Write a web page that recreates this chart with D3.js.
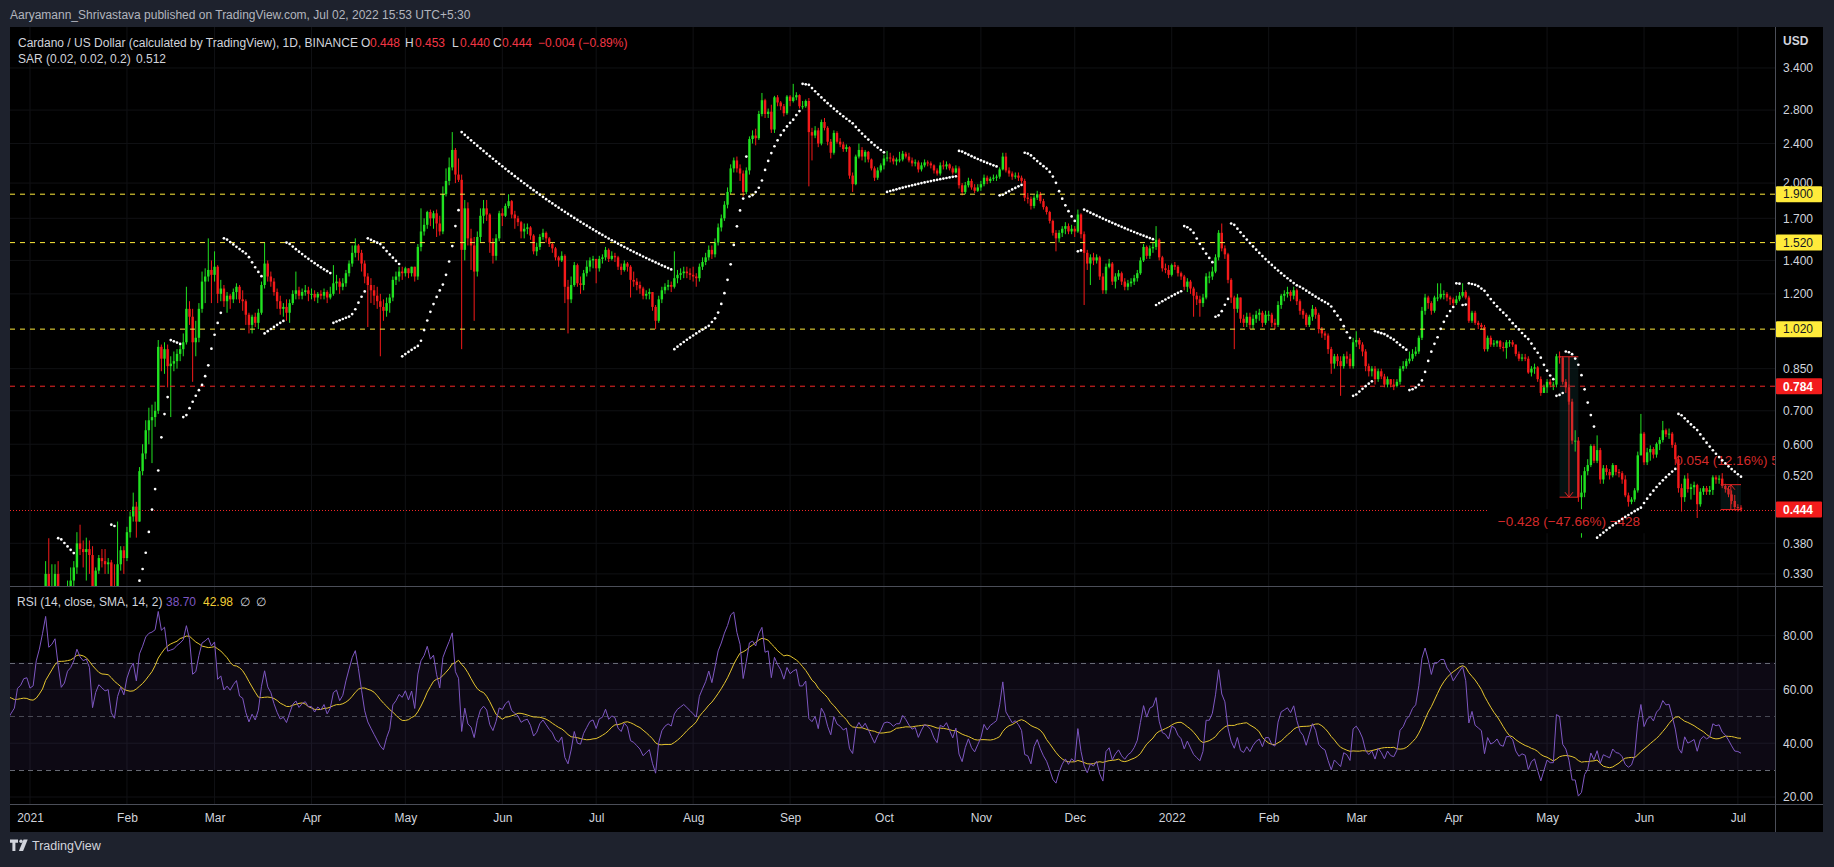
<!DOCTYPE html>
<html><head><meta charset="utf-8">
<script src="https://cdn.jsdelivr.net/npm/d3@7"></script>
<style>
html,body{margin:0;padding:0;background:#1e222d;overflow:hidden}
svg{display:block}
text{font-family:"Liberation Sans",Arial,sans-serif}
</style></head><body>
<svg id="chart" width="1834" height="867"></svg>
<script>
// ---------------- DATA (daily, Cardano / USD, starting 2020-11-15) ----------------
const startDate = "2020-11-15";
const close = [
// 2020-11-15..30
0.099,0.103,0.107,0.103,0.105,0.114,0.136,0.139,0.162,0.170,0.146,0.131,0.137,0.148,0.150,0.160,
// 2020-12
0.155,0.160,0.163,0.148,0.155,0.158,0.154,0.144,0.150,0.147,0.142,0.148,0.155,0.153,0.151,0.158,0.170,0.174,0.168,0.164,0.152,0.156,0.130,0.141,0.144,0.148,0.152,0.170,0.173,0.180,0.181,
// 2021-01
0.175,0.177,0.205,0.224,0.259,0.330,0.300,0.310,0.330,0.300,0.270,0.280,0.310,0.320,0.340,0.380,0.370,0.365,0.370,0.360,0.300,0.335,0.355,0.350,0.345,0.348,0.310,0.300,0.345,0.368,0.355,
// 2021-02
0.400,0.430,0.450,0.420,0.530,0.575,0.640,0.670,0.680,0.700,0.940,0.890,0.930,0.860,0.870,0.880,0.910,0.930,0.960,1.120,1.080,0.960,0.980,1.120,1.270,1.300,1.340,1.310,
// 2021-03
1.36,1.20,1.23,1.16,1.19,1.17,1.21,1.24,1.17,1.16,1.09,1.04,1.08,1.05,1.10,1.25,1.38,1.30,1.27,1.21,1.16,1.12,1.13,1.10,1.15,1.20,1.22,1.19,1.21,1.22,1.20,
// 2021-04
1.20,1.18,1.20,1.19,1.21,1.18,1.20,1.26,1.27,1.24,1.26,1.32,1.38,1.45,1.50,1.45,1.38,1.30,1.25,1.22,1.19,1.16,1.13,1.11,1.15,1.18,1.28,1.30,1.33,1.32,
// 2021-05
1.35,1.32,1.36,1.30,1.49,1.60,1.65,1.75,1.70,1.74,1.66,1.60,1.90,2.02,2.15,2.33,2.08,2.03,1.47,1.78,1.55,1.50,1.33,1.56,1.72,1.78,1.73,1.52,1.43,1.55,1.74,
// 2021-06
1.72,1.80,1.84,1.73,1.70,1.67,1.60,1.62,1.63,1.57,1.46,1.49,1.56,1.59,1.55,1.51,1.48,1.42,1.40,1.43,1.24,1.17,1.25,1.37,1.26,1.25,1.32,1.36,1.40,1.41,
// 2021-07
1.35,1.41,1.42,1.47,1.41,1.43,1.42,1.36,1.34,1.38,1.36,1.28,1.27,1.25,1.23,1.19,1.20,1.21,1.13,1.06,1.17,1.22,1.24,1.25,1.24,1.29,1.31,1.32,1.33,1.32,1.31,
// 2021-08
1.30,1.29,1.36,1.39,1.42,1.47,1.44,1.52,1.63,1.70,1.81,1.92,2.14,2.22,2.14,2.09,1.92,2.12,2.45,2.49,2.46,2.75,2.93,2.75,2.78,2.56,2.97,2.90,2.85,2.76,2.98,
// 2021-09
2.92,2.97,3.00,2.85,2.85,2.92,2.53,2.49,2.55,2.40,2.65,2.58,2.42,2.30,2.52,2.42,2.39,2.34,2.36,2.07,1.99,2.26,2.33,2.26,2.31,2.23,2.14,2.05,2.12,2.17,
// 2021-10
2.24,2.25,2.24,2.21,2.23,2.23,2.29,2.26,2.22,2.19,2.20,2.13,2.17,2.20,2.19,2.17,2.12,2.09,2.17,2.16,2.18,2.14,2.10,2.14,1.98,1.92,1.98,2.02,1.96,1.93,1.96,
// 2021-11
1.99,2.05,2.02,2.04,2.05,2.06,2.13,2.26,2.12,2.09,2.06,2.07,2.05,2.02,1.87,1.86,1.80,1.87,1.90,1.84,1.79,1.75,1.68,1.59,1.55,1.59,1.62,1.64,1.60,1.62,
// 2021-12
1.60,1.73,1.58,1.45,1.38,1.42,1.40,1.42,1.30,1.22,1.36,1.38,1.27,1.30,1.32,1.27,1.24,1.26,1.27,1.29,1.32,1.40,1.49,1.43,1.48,1.49,1.54,1.42,1.35,1.34,1.31,
// 2022-01
1.37,1.36,1.32,1.30,1.24,1.27,1.23,1.19,1.17,1.15,1.18,1.30,1.30,1.33,1.42,1.59,1.48,1.44,1.28,1.18,1.12,1.18,1.07,1.05,1.08,1.04,1.07,1.09,1.10,1.05,1.09,
// 2022-02
1.09,1.05,1.04,1.14,1.19,1.20,1.21,1.19,1.22,1.16,1.11,1.09,1.04,1.08,1.12,1.09,1.02,1.00,0.99,0.93,0.87,0.90,0.88,0.86,0.90,0.89,0.86,0.96,
// 2022-03
0.97,0.95,0.92,0.86,0.84,0.85,0.81,0.84,0.82,0.79,0.81,0.79,0.785,0.80,0.85,0.86,0.88,0.89,0.91,0.92,0.98,1.11,1.18,1.15,1.11,1.18,1.18,1.20,1.20,1.18,1.17,
// 2022-04
1.15,1.17,1.19,1.21,1.18,1.06,1.10,1.05,1.04,1.03,0.93,0.98,0.95,0.955,0.965,0.94,0.935,0.96,0.96,0.95,0.91,0.89,0.895,0.89,0.835,0.85,0.855,0.81,0.76,0.78,
// 2022-05
0.80,0.79,0.79,0.90,0.895,0.80,0.78,0.73,0.61,0.61,0.47,0.48,0.53,0.545,0.595,0.556,0.584,0.51,0.537,0.528,0.52,0.545,0.528,0.525,0.51,0.474,0.46,0.465,0.485,0.57,0.63,
// 2022-06
0.552,0.578,0.587,0.572,0.601,0.612,0.640,0.628,0.630,0.598,0.560,0.49,0.47,0.512,0.488,0.492,0.497,0.455,0.482,0.49,0.482,0.486,0.515,0.51,0.512,0.495,0.488,0.476,0.462,0.449,
// 2022-07
0.448,0.444
];
const high = [
0.103,0.105,0.110,0.108,0.107,0.116,0.140,0.155,0.165,0.183,0.172,0.148,0.140,0.151,0.155,0.165,
0.166,0.163,0.168,0.165,0.157,0.161,0.160,0.155,0.152,0.152,0.148,0.149,0.158,0.158,0.155,0.160,0.175,0.178,0.177,0.170,0.166,0.160,0.158,0.143,0.149,0.150,0.160,0.173,0.178,0.184,0.185,
0.185,0.184,0.210,0.240,0.265,0.350,0.389,0.345,0.345,0.350,0.310,0.310,0.320,0.340,0.350,0.400,0.414,0.385,0.390,0.385,0.375,0.340,0.360,0.370,0.370,0.355,0.352,0.345,0.420,0.375,0.375,
0.410,0.440,0.480,0.460,0.540,0.600,0.670,0.710,0.720,0.730,0.970,0.950,0.960,0.950,0.900,0.920,0.930,0.950,1.000,1.240,1.160,1.120,1.060,1.150,1.330,1.350,1.550,1.400,
1.46,1.37,1.28,1.25,1.21,1.20,1.23,1.26,1.25,1.22,1.17,1.10,1.09,1.10,1.12,1.27,1.52,1.40,1.33,1.29,1.23,1.19,1.15,1.17,1.17,1.22,1.33,1.24,1.23,1.25,1.24,
1.23,1.22,1.21,1.22,1.23,1.22,1.24,1.37,1.31,1.29,1.29,1.34,1.40,1.50,1.55,1.51,1.47,1.40,1.32,1.29,1.25,1.24,1.20,1.17,1.18,1.20,1.30,1.33,1.36,1.36,
1.36,1.35,1.36,1.35,1.51,1.78,1.70,1.76,1.77,1.76,1.77,1.72,1.97,2.14,2.25,2.53,2.35,2.24,2.08,1.85,1.83,1.62,1.56,1.60,1.78,1.85,1.85,1.74,1.55,1.58,1.76,
1.78,1.82,1.90,1.85,1.76,1.72,1.68,1.66,1.66,1.64,1.58,1.52,1.58,1.62,1.60,1.56,1.52,1.49,1.43,1.46,1.44,1.28,1.30,1.39,1.38,1.30,1.34,1.40,1.42,1.43,
1.41,1.43,1.44,1.49,1.48,1.46,1.45,1.43,1.38,1.40,1.39,1.37,1.33,1.29,1.27,1.24,1.22,1.23,1.21,1.14,1.19,1.24,1.26,1.28,1.27,1.46,1.34,1.35,1.36,1.36,1.35,
1.36,1.32,1.38,1.42,1.45,1.50,1.50,1.55,1.66,1.73,1.84,1.96,2.18,2.25,2.26,2.18,2.12,2.15,2.48,2.55,2.57,2.79,3.03,2.95,2.82,2.87,2.99,3.00,2.92,2.88,3.00,
3.00,3.16,3.04,3.01,2.92,2.94,2.96,2.58,2.60,2.58,2.68,2.70,2.60,2.45,2.55,2.54,2.46,2.42,2.39,2.37,2.10,2.28,2.40,2.36,2.33,2.32,2.24,2.16,2.15,2.19,
2.28,2.32,2.30,2.27,2.25,2.31,2.32,2.31,2.30,2.25,2.23,2.22,2.20,2.23,2.22,2.21,2.18,2.14,2.20,2.22,2.21,2.19,2.16,2.17,2.16,2.00,2.01,2.05,2.04,1.99,1.99,
2.02,2.08,2.07,2.06,2.08,2.08,2.15,2.30,2.30,2.15,2.11,2.10,2.10,2.07,2.04,1.91,1.88,1.89,1.93,1.92,1.86,1.80,1.76,1.69,1.61,1.61,1.64,1.67,1.66,1.65,
1.64,1.77,1.74,1.60,1.47,1.44,1.45,1.44,1.43,1.32,1.38,1.41,1.39,1.32,1.34,1.33,1.29,1.28,1.29,1.31,1.34,1.42,1.51,1.50,1.50,1.52,1.64,1.55,1.43,1.38,1.37,
1.38,1.39,1.37,1.33,1.31,1.29,1.28,1.24,1.21,1.19,1.20,1.32,1.33,1.36,1.44,1.61,1.66,1.50,1.45,1.29,1.19,1.20,1.17,1.09,1.10,1.10,1.09,1.11,1.12,1.11,1.11,
1.11,1.10,1.07,1.16,1.20,1.22,1.24,1.22,1.24,1.23,1.17,1.12,1.10,1.09,1.14,1.13,1.10,1.03,1.01,1.00,0.94,0.91,0.91,0.90,0.91,0.92,0.91,0.98,
1.01,0.98,0.96,0.93,0.87,0.86,0.86,0.85,0.85,0.83,0.82,0.81,0.81,0.81,0.86,0.88,0.89,0.92,0.93,0.94,0.99,1.13,1.20,1.19,1.16,1.19,1.26,1.26,1.22,1.21,1.19,
1.18,1.19,1.21,1.26,1.22,1.19,1.11,1.11,1.06,1.05,1.04,0.99,0.99,0.97,0.97,0.97,0.96,0.97,0.97,0.97,0.95,0.92,0.91,0.91,0.90,0.86,0.87,0.86,0.82,0.79,
0.81,0.81,0.80,0.91,0.92,0.90,0.81,0.79,0.74,0.64,0.62,0.52,0.54,0.56,0.60,0.60,0.625,0.59,0.545,0.545,0.535,0.55,0.545,0.535,0.53,0.52,0.48,0.47,0.49,0.58,0.69,
0.635,0.59,0.597,0.592,0.605,0.62,0.668,0.645,0.645,0.635,0.605,0.57,0.50,0.52,0.525,0.50,0.505,0.50,0.49,0.495,0.495,0.495,0.52,0.52,0.52,0.525,0.50,0.495,0.485,0.475,
0.455,0.453
];
const low = [
0.096,0.098,0.102,0.100,0.101,0.104,0.113,0.128,0.137,0.155,0.140,0.120,0.128,0.135,0.144,0.148,
0.148,0.151,0.156,0.145,0.146,0.152,0.150,0.141,0.140,0.143,0.136,0.140,0.147,0.150,0.148,0.150,0.156,0.165,0.163,0.160,0.148,0.146,0.122,0.128,0.138,0.141,0.145,0.150,0.164,0.169,0.172,
0.171,0.170,0.176,0.190,0.215,0.255,0.290,0.260,0.300,0.280,0.230,0.260,0.270,0.300,0.290,0.330,0.360,0.340,0.320,0.330,0.290,0.280,0.330,0.340,0.330,0.330,0.290,0.285,0.300,0.335,0.330,
0.350,0.390,0.420,0.390,0.420,0.520,0.560,0.600,0.550,0.650,0.690,0.840,0.830,0.780,0.680,0.840,0.850,0.880,0.900,0.950,1.040,0.800,0.900,0.960,1.100,1.150,1.270,1.150,
1.27,1.15,1.16,1.13,1.10,1.12,1.15,1.17,1.15,1.11,1.04,1.00,1.00,1.03,1.02,1.09,1.23,1.27,1.24,1.19,1.12,1.09,1.08,1.06,1.05,1.14,1.17,1.17,1.17,1.19,1.16,
1.17,1.16,1.15,1.17,1.17,1.15,1.17,1.19,1.22,1.20,1.22,1.24,1.30,1.36,1.42,1.40,1.33,1.26,1.03,1.15,1.14,1.12,0.90,1.06,1.08,1.10,1.16,1.25,1.27,1.28,
1.30,1.29,1.30,1.27,1.28,1.46,1.57,1.62,1.64,1.62,1.56,1.57,1.58,1.88,1.98,2.12,2.00,2.01,0.93,1.40,1.50,1.34,1.06,1.30,1.52,1.66,1.68,1.45,1.38,1.40,1.53,
1.64,1.71,1.78,1.70,1.62,1.64,1.55,1.55,1.58,1.54,1.44,1.43,1.47,1.54,1.52,1.49,1.45,1.40,1.36,1.39,1.15,1.00,1.15,1.24,1.24,1.20,1.22,1.30,1.33,1.35,
1.26,1.33,1.38,1.40,1.39,1.40,1.39,1.34,1.31,1.33,1.33,1.18,1.24,1.22,1.20,1.17,1.17,1.17,1.11,1.02,1.05,1.15,1.20,1.22,1.21,1.23,1.26,1.28,1.29,1.29,1.28,
1.27,1.24,1.27,1.34,1.37,1.40,1.41,1.42,1.50,1.60,1.68,1.78,1.90,2.10,2.10,2.02,1.88,1.90,2.08,2.40,2.38,2.44,2.72,2.70,2.70,2.52,2.52,2.85,2.80,2.72,2.74,
2.85,2.90,2.93,2.82,2.81,2.83,1.97,2.22,2.46,2.36,2.38,2.55,2.38,2.24,2.28,2.40,2.36,2.31,2.31,2.04,1.92,1.98,2.24,2.22,2.20,2.20,2.12,2.02,2.03,2.10,
2.13,2.21,2.20,2.18,2.17,2.20,2.21,2.24,2.20,2.16,2.16,2.10,2.11,2.15,2.16,2.14,2.09,2.07,2.07,2.13,2.13,2.12,2.08,2.09,1.95,1.89,1.90,1.96,1.94,1.91,1.92,
1.93,1.97,1.99,2.00,2.02,2.02,2.04,2.12,2.10,2.06,2.03,2.04,2.02,2.00,1.84,1.82,1.77,1.78,1.85,1.82,1.77,1.73,1.66,1.57,1.46,1.52,1.56,1.58,1.58,1.58,
1.56,1.59,1.55,1.14,1.34,1.25,1.37,1.38,1.28,1.20,1.20,1.35,1.25,1.23,1.28,1.25,1.22,1.22,1.24,1.25,1.27,1.31,1.39,1.41,1.41,1.45,1.47,1.40,1.33,1.32,1.29,
1.30,1.34,1.30,1.28,1.22,1.21,1.20,1.08,1.14,1.08,1.13,1.17,1.26,1.28,1.32,1.40,1.46,1.41,1.26,1.15,0.93,1.10,1.05,1.03,1.03,1.02,1.02,1.05,1.06,1.03,1.04,
1.06,1.03,1.02,1.03,1.12,1.16,1.18,1.16,1.17,1.14,1.09,1.07,1.03,1.03,1.06,1.07,1.00,0.98,0.97,0.91,0.83,0.85,0.86,0.75,0.85,0.87,0.85,0.85,
0.94,0.93,0.90,0.84,0.82,0.82,0.79,0.80,0.81,0.78,0.78,0.78,0.77,0.78,0.79,0.84,0.85,0.87,0.88,0.90,0.91,0.97,1.09,1.12,1.09,1.10,1.16,1.17,1.17,1.16,1.14,
1.13,1.14,1.16,1.18,1.17,1.05,1.05,1.04,1.02,1.02,0.92,0.92,0.94,0.94,0.94,0.93,0.92,0.89,0.94,0.94,0.90,0.88,0.88,0.88,0.83,0.82,0.83,0.80,0.75,0.76,
0.76,0.78,0.77,0.78,0.87,0.79,0.76,0.72,0.60,0.58,0.46,0.39,0.47,0.52,0.54,0.55,0.55,0.50,0.50,0.52,0.51,0.515,0.52,0.515,0.50,0.47,0.45,0.455,0.46,0.48,0.57,
0.545,0.545,0.556,0.562,0.564,0.584,0.605,0.62,0.615,0.59,0.545,0.48,0.44,0.46,0.48,0.465,0.475,0.427,0.45,0.475,0.475,0.475,0.475,0.50,0.50,0.49,0.48,0.47,0.455,0.442,
0.44,0.440
];

// axis / annotation values
const monthTicks = ["2021-01-01","2021-02-01","2021-03-01","2021-04-01","2021-05-01","2021-06-01","2021-07-01","2021-08-01","2021-09-01","2021-10-01","2021-11-01","2021-12-01","2022-01-01","2022-02-01","2022-03-01","2022-04-01","2022-05-01","2022-06-01","2022-07-01"];
const monthLabels = ["2021","Feb","Mar","Apr","May","Jun","Jul","Aug","Sep","Oct","Nov","Dec","2022","Feb","Mar","Apr","May","Jun","Jul"];
const priceTicks = [3.4,2.8,2.4,2.0,1.7,1.4,1.2,0.85,0.7,0.6,0.52,0.38,0.33];
const rsiTicks = [80,60,40,20];
const yellowLevels = [1.9,1.52,1.02];
const redLevel = 0.784;
const lastPrice = 0.444;
const rsiBands = [70,50,30];
const ranges = [
  {from:"2022-05-05T00:00Z", to:"2022-05-11T00:00Z", p1:0.898, p2:0.470, label:"\u22120.428 (\u221247.66%) \u2212428"},
  {from:"2022-06-25T12:00Z", to:"2022-07-02T00:00Z", p1:0.444, p2:0.498, label:"0.054 (12.16%) 54"}
];

// ---------------- CHART ----------------
const svg = d3.select("#chart");
const L=10, R=1775, T=27, MB=586, RT=587, RB=804, AXB=832, RIGHT=1823;
const DAY=864e5, t0=Date.parse(startDate+"T00:00Z"), j1=Date.UTC(2021,0,1);
const dates = close.map((_,i)=>new Date(t0+i*DAY));
const x = d3.scaleUtc().domain([new Date(j1-6.394*DAY), new Date(j1+557.87*DAY)]).range([L,R]);
const y = d3.scaleLog().domain([0.3121,4.088]).range([MB,28]);
const yr = d3.scaleLinear().domain([17.40,98.44]).range([RB,RT-1]);
const UP="#21e221", DN="#f51a1a", AX="#d1d4dc", SEP="#4b4e58";

if(close.length!==high.length||close.length!==low.length){
  svg.append("text").attr("x",400).attr("y",300).attr("fill","yellow").text("len "+close.length+" "+high.length+" "+low.length);
}

// backgrounds
svg.append("rect").attr("x",L).attr("y",T).attr("width",RIGHT-L).attr("height",AXB-T).attr("fill","#000");
const defs=svg.append("defs");
defs.append("clipPath").attr("id","cm").append("rect").attr("x",L).attr("y",T).attr("width",R-L).attr("height",MB-T);
defs.append("clipPath").attr("id","cr").append("rect").attr("x",L).attr("y",RT).attr("width",R-L).attr("height",RB-RT);

// grid
const gridC="#101114";
const tickDates = monthTicks.map(s=>new Date(s+"T00:00Z"));
const gm = svg.append("g").attr("clip-path","url(#cm)");
const gr = svg.append("g").attr("clip-path","url(#cr)");
[gm,gr].forEach((g,k)=>{
  g.selectAll("line.v").data(tickDates).enter().append("line")
   .attr("x1",d=>x(d)).attr("x2",d=>x(d)).attr("y1",k?RT:T).attr("y2",k?RB:MB).attr("stroke",gridC);
});
gm.selectAll("line.h").data(priceTicks).enter().append("line")
  .attr("x1",L).attr("x2",R).attr("y1",d=>y(d)).attr("y2",d=>y(d)).attr("stroke",gridC);
gr.selectAll("line.h").data(rsiTicks).enter().append("line")
  .attr("x1",L).attr("x2",R).attr("y1",d=>yr(d)).attr("y2",d=>yr(d)).attr("stroke",gridC);

// candles
const bars = close.map((c,i)=>{const o=i>0?close[i-1]:c;return {t:dates[i],o,c,h:Math.max(high[i],o,c),l:Math.min(low[i],o,c)};});
const bw=2.4;
const cg = gm.append("g");
cg.selectAll("line.w").data(bars).enter().append("line")
  .attr("x1",d=>x(d.t)).attr("x2",d=>x(d.t)).attr("y1",d=>y(d.h)).attr("y2",d=>y(d.l))
  .attr("stroke",d=>d.c>=d.o?UP:DN).attr("stroke-width",1);
cg.selectAll("rect.b").data(bars).enter().append("rect")
  .attr("x",d=>x(d.t)-bw/2).attr("width",bw)
  .attr("y",d=>y(Math.max(d.o,d.c))).attr("height",d=>Math.max(1,y(Math.min(d.o,d.c))-y(Math.max(d.o,d.c))))
  .attr("fill",d=>d.c>=d.o?UP:DN);

// horizontal level lines
gm.selectAll("line.yl").data(yellowLevels).enter().append("line")
  .attr("x1",L).attr("x2",R).attr("y1",d=>y(d)).attr("y2",d=>y(d))
  .attr("stroke","#ffeb3b").attr("stroke-dasharray","5,5");
gm.append("line").attr("x1",L).attr("x2",R).attr("y1",y(redLevel)).attr("y2",y(redLevel))
  .attr("stroke","#f22727").attr("stroke-dasharray","5,5");
gm.append("line").attr("x1",L).attr("x2",R).attr("y1",Math.round(y(lastPrice))+0.5).attr("y2",Math.round(y(lastPrice))+0.5)
  .attr("stroke","#f22727").attr("stroke-dasharray","1,2");

// price range measurements
ranges.forEach((r,k)=>{
  const x1=x(new Date(r.from)), x2=x(new Date(r.to)), xm=(x1+x2)/2;
  const ya=y(r.p1), yb=y(r.p2), top=Math.min(ya,yb), bot=Math.max(ya,yb);
  gm.append("rect").attr("x",x1).attr("y",top).attr("width",x2-x1).attr("height",bot-top).attr("fill","rgba(40,110,110,0.16)");
  [top,bot].forEach(v=>gm.append("line").attr("x1",x1).attr("x2",x2).attr("y1",v).attr("y2",v).attr("stroke","#e02424"));
  gm.append("line").attr("x1",xm).attr("x2",xm).attr("y1",top).attr("y2",bot).attr("stroke","#e02424");
  const dir = yb>ya?1:-1;
  gm.append("path").attr("d",`M${xm-4},${yb-dir*5}L${xm},${yb}L${xm+4},${yb-dir*5}`).attr("fill","none").attr("stroke","#e02424");
  const ly = dir>0 ? bot+24 : top-25;
  if(dir>0) gm.append("rect").attr("x",xm-80).attr("y",ly-12).attr("width",160).attr("height",24).attr("fill","#000");
  gm.append("text").attr("x",xm).attr("y",ly+5).attr("text-anchor","middle").attr("font-size","13.5px")
    .attr("fill","#d42a2a").text(r.label);
});

// Parabolic SAR (0.02, 0.02, 0.2)
function sar(h,l,c,start=0.02,inc=0.02,mx=0.2){
  const n=c.length,out=new Array(n).fill(null);let res,mm,acc,below;
  for(let i=1;i<n;i++){
    let first=false;
    if(i===1){ if(c[1]>c[0]){below=true;mm=h[1];res=l[0];}else{below=false;mm=l[1];res=h[0];} first=true;acc=start; }
    res=res+acc*(mm-res);
    if(below){ if(res>l[i]){first=true;below=false;res=Math.max(h[i],mm);mm=l[i];acc=start;} }
    else { if(res<h[i]){first=true;below=true;res=Math.min(l[i],mm);mm=h[i];acc=start;} }
    if(!first){
      if(below){ if(h[i]>mm){mm=h[i];acc=Math.min(acc+inc,mx);} }
      else { if(l[i]<mm){mm=l[i];acc=Math.min(acc+inc,mx);} }
    }
    if(below){ res=Math.min(res,l[i-1]); if(i>1) res=Math.min(res,l[i-2]); }
    else { res=Math.max(res,h[i-1]); if(i>1) res=Math.max(res,h[i-2]); }
    out[i]=res;
  }
  return out;
}
const H=bars.map(b=>b.h), Lo=bars.map(b=>b.l);
const sarV = sar(H,Lo,close);
gm.selectAll("circle.s").data(bars.map((b,i)=>({t:b.t,v:sarV[i]})).filter(d=>d.v!==null)).enter().append("circle")
  .attr("cx",d=>x(d.t)).attr("cy",d=>y(d.v)).attr("r",1.35).attr("fill","#fff");

// RSI
function rsi(c,len=14){
  const n=c.length,out=new Array(n).fill(null);let up=0,dn=0;
  for(let i=1;i<n;i++){
    const ch=c[i]-c[i-1],u=Math.max(ch,0),d=Math.max(-ch,0);
    if(i<=len){up+=u;dn+=d;if(i<len)continue;up/=len;dn/=len;}
    else{up=(up*(len-1)+u)/len;dn=(dn*(len-1)+d)/len;}
    out[i]=dn===0?100:(up===0?0:100-100/(1+up/dn));
  }
  return out;
}
const rsiV=rsi(close);
const smaV=rsiV.map((v,i)=>{ if(i<14) return null; const s=rsiV.slice(i-13,i+1); if(s.some(z=>z===null)) return null; return d3.mean(s); });
gr.append("rect").attr("x",L).attr("width",R-L).attr("y",yr(70)).attr("height",yr(30)-yr(70)).attr("fill","rgba(126,87,194,0.1)");
gr.selectAll("line.band").data(rsiBands).enter().append("line")
  .attr("x1",L).attr("x2",R).attr("y1",d=>Math.round(yr(d))+0.5).attr("y2",d=>Math.round(yr(d))+0.5)
  .attr("stroke","#787b86").attr("stroke-opacity",d=>d===50?0.55:0.85).attr("stroke-dasharray","5,4");
const ln=(arr)=>d3.line().defined(d=>d.v!==null).x(d=>x(d.t)).y(d=>yr(d.v))(bars.map((b,i)=>({t:b.t,v:arr[i]})));
gr.append("path").attr("d",ln(smaV)).attr("fill","none").attr("stroke","#e6c62f").attr("stroke-width",1);
gr.append("path").attr("d",ln(rsiV)).attr("fill","none").attr("stroke","#7e57c2").attr("stroke-width",1);

// separators
svg.append("line").attr("x1",L).attr("x2",RIGHT).attr("y1",MB+0.5).attr("y2",MB+0.5).attr("stroke",SEP);
svg.append("line").attr("x1",L).attr("x2",RIGHT).attr("y1",RB+0.5).attr("y2",RB+0.5).attr("stroke",SEP);
svg.append("line").attr("x1",R+0.5).attr("x2",R+0.5).attr("y1",T).attr("y2",AXB).attr("stroke",SEP);

// axes
const fmt3=d3.format(".3f");
const ya = svg.append("g").attr("transform",`translate(${R},0)`).call(d3.axisRight(y).tickValues(priceTicks).tickFormat(fmt3).tickSize(0).tickPadding(8));
const yra = svg.append("g").attr("transform",`translate(${R},0)`).call(d3.axisRight(yr).tickValues(rsiTicks).tickFormat(d3.format(".2f")).tickSize(0).tickPadding(8));
const xa = svg.append("g").attr("transform",`translate(0,${RB})`).call(d3.axisBottom(x).tickValues(tickDates).tickFormat((d,i)=>monthLabels[i]).tickSize(0).tickPadding(9));
[ya,yra,xa].forEach(g=>{g.select(".domain").remove();g.selectAll("text").attr("fill",AX).attr("font-size","12px").attr("font-family","Liberation Sans, Arial, sans-serif");});
svg.append("text").attr("x",R+8).attr("y",45).attr("fill",AX).attr("font-size","12px").attr("font-weight","bold").text("USD");

// price tags
function tag(v,bg,fg,bold){
  const yy=y(v);
  svg.append("rect").attr("x",R+1).attr("y",yy-8).attr("width",46).attr("height",16).attr("fill",bg).attr("rx",1);
  svg.append("text").attr("x",R+8).attr("y",yy+4.3).attr("fill",fg).attr("font-size","12px").attr("font-weight",bold?"bold":"normal").text(fmt3(v));
}
yellowLevels.forEach(v=>tag(v,"#ffeb3b","#131722",false));
tag(redLevel,"#f21c1c","#ffffff",true);
tag(lastPrice,"#f21c1c","#ffffff",true);

// legends
const red="#f23645";
svg.append("text").attr("x",10).attr("y",19).attr("fill","#b2b5be").attr("font-size","12px")
  .text("Aaryamann_Shrivastava published on TradingView.com, Jul 02, 2022 15:53 UTC+5:30");
const lg=svg.append("g").attr("font-size","12px");
lg.append("text").attr("x",18).attr("y",47).attr("fill",AX).text("Cardano / US Dollar (calculated by TradingView), 1D, BINANCE");
[["O",361,"0.448",370],["H",405,"0.453",415],["L",452,"0.440",460],["C",493,"0.444",502]].forEach(a=>{
  lg.append("text").attr("x",a[1]).attr("y",47).attr("fill",AX).text(a[0]);
  lg.append("text").attr("x",a[3]).attr("y",47).attr("fill",red).text(a[2]);
});
lg.append("text").attr("x",538).attr("y",47).attr("fill",red).text("\u22120.004 (\u22120.89%)");
lg.append("text").attr("x",18).attr("y",63).attr("fill",AX).text("SAR (0.02, 0.02, 0.2)");
lg.append("text").attr("x",136).attr("y",63).attr("fill",AX).text("0.512");
lg.append("text").attr("x",17).attr("y",606).attr("fill",AX).text("RSI (14, close, SMA, 14, 2)");
lg.append("text").attr("x",166).attr("y",606).attr("fill","#7e57c2").text("38.70");
lg.append("text").attr("x",203).attr("y",606).attr("fill","#f2cf35").text("42.98");
lg.append("text").attr("x",240).attr("y",606).attr("fill",AX).text("\u2205");
lg.append("text").attr("x",256).attr("y",606).attr("fill",AX).text("\u2205");

// TradingView logo
const lgo=svg.append("g").attr("fill","#d1d4dc").attr("transform","translate(0,-11.5)");
lgo.append("path").attr("d","M10,851h8v3.2h-2.6v8.4h-3v-8.4H10z");
lgo.append("circle").attr("cx",21).attr("cy",852.8).attr("r",1.7);
lgo.append("path").attr("d","M23.5,851h4.2l-4.6,11.6h-4.2z");
svg.append("text").attr("x",32).attr("y",850).attr("fill","#d1d4dc").attr("font-size","12.5px").text("TradingView");
</script>
</body></html>
